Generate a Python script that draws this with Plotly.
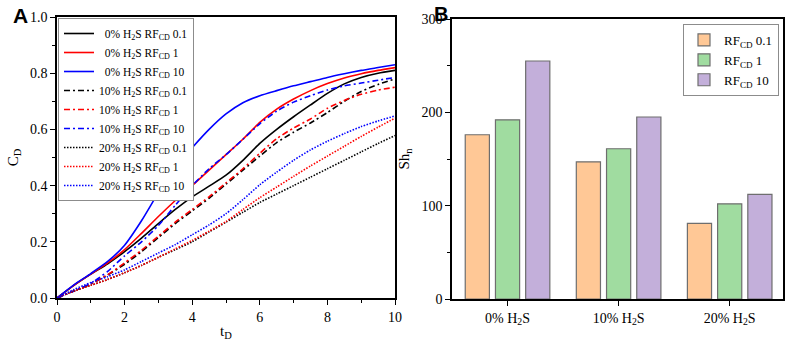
import plotly.graph_objects as go

W, H = 789, 341

# ---------------- Panel A data ----------------
t_D = [0, 0.5, 1, 1.5, 2, 2.5, 3, 3.5, 4, 4.5, 5, 5.5, 6, 6.5, 7, 7.5, 8, 8.5, 9, 9.5, 10]

c_0_01 = [0, 0.045, 0.085, 0.122, 0.165, 0.213, 0.265, 0.315, 0.36, 0.398, 0.437, 0.49, 0.55, 0.60, 0.645, 0.687, 0.728, 0.762, 0.785, 0.80, 0.81]
c_0_1 = [0, 0.045, 0.085, 0.125, 0.172, 0.23, 0.29, 0.347, 0.40, 0.455, 0.51, 0.565, 0.625, 0.672, 0.708, 0.738, 0.763, 0.783, 0.798, 0.81, 0.82]
c_0_10 = [0, 0.047, 0.087, 0.13, 0.188, 0.275, 0.375, 0.465, 0.535, 0.60, 0.655, 0.695, 0.72, 0.738, 0.755, 0.77, 0.785, 0.798, 0.81, 0.82, 0.83]
c_10_01 = [0, 0.025, 0.05, 0.082, 0.12, 0.165, 0.215, 0.265, 0.31, 0.355, 0.405, 0.455, 0.505, 0.553, 0.59, 0.623, 0.66, 0.70, 0.735, 0.76, 0.78]
c_10_1 = [0, 0.025, 0.05, 0.083, 0.125, 0.17, 0.22, 0.27, 0.315, 0.36, 0.41, 0.46, 0.515, 0.567, 0.605, 0.637, 0.675, 0.703, 0.725, 0.74, 0.75]
c_10_10 = [0, 0.025, 0.052, 0.095, 0.15, 0.20, 0.258, 0.33, 0.40, 0.46, 0.51, 0.565, 0.62, 0.665, 0.697, 0.72, 0.74, 0.755, 0.765, 0.775, 0.785]
c_20_01 = [0, 0.025, 0.045, 0.066, 0.09, 0.116, 0.145, 0.172, 0.20, 0.235, 0.27, 0.305, 0.34, 0.37, 0.40, 0.43, 0.46, 0.49, 0.52, 0.55, 0.578]
c_20_1 = [0, 0.025, 0.045, 0.066, 0.09, 0.116, 0.145, 0.175, 0.205, 0.238, 0.272, 0.315, 0.357, 0.395, 0.433, 0.47, 0.505, 0.54, 0.575, 0.608, 0.64]
c_20_10 = [0, 0.03, 0.055, 0.076, 0.10, 0.13, 0.16, 0.19, 0.225, 0.26, 0.30, 0.35, 0.403, 0.448, 0.49, 0.527, 0.558, 0.585, 0.61, 0.63, 0.648]

series_names = [
    "\u00a0\u00a00% H<sub>2</sub>S RF<sub>CD</sub> 0.1",
    "\u00a0\u00a00% H<sub>2</sub>S RF<sub>CD</sub> 1",
    "\u00a0\u00a00% H<sub>2</sub>S RF<sub>CD</sub> 10",
    "10% H<sub>2</sub>S RF<sub>CD</sub> 0.1",
    "10% H<sub>2</sub>S RF<sub>CD</sub> 1",
    "10% H<sub>2</sub>S RF<sub>CD</sub> 10",
    "20% H<sub>2</sub>S RF<sub>CD</sub> 0.1",
    "20% H<sub>2</sub>S RF<sub>CD</sub> 1",
    "20% H<sub>2</sub>S RF<sub>CD</sub> 10",
]
series_values = [c_0_01, c_0_1, c_0_10, c_10_01, c_10_1, c_10_10, c_20_01, c_20_1, c_20_10]
series_colors = ["#000000", "#FF0000", "#0000FF"] * 3
series_dash = ["solid"] * 3 + ["6px,3px,2px,3px"] * 3 + ["1.5px,1.5px"] * 3

# ---------------- Panel B data ----------------
groups = ["0% H<sub>2</sub>S", "10% H<sub>2</sub>S", "20% H<sub>2</sub>S"]
sh_rf01 = [176, 147, 81]
sh_rf1 = [192, 161, 102]
sh_rf10 = [255, 195, 112]
bar_names = ["RF<sub>CD</sub> 0.1", "RF<sub>CD</sub> 1", "RF<sub>CD</sub> 10"]
bar_colors = ["#FFC896", "#A0DCA0", "#C3AFDA"]

fig = go.Figure()

for name, vals, col, dash in zip(series_names, series_values, series_colors, series_dash):
    fig.add_trace(go.Scatter(
        x=t_D, y=vals, mode="lines", name=name,
        line=dict(color=col, width=1.6, dash=dash, shape="spline", smoothing=0.6),
        xaxis="x", yaxis="y", legend="legend",
    ))

for name, vals, col in zip(bar_names, [sh_rf01, sh_rf1, sh_rf10], bar_colors):
    fig.add_trace(go.Bar(
        x=groups, y=vals, name=name,
        marker=dict(color=col, line=dict(color="#6E6E6E", width=1.2)),
        xaxis="x2", yaxis="y2", legend="legend2",
    ))

serif = "Liberation Serif"
tickfont = dict(family=serif, size=14, color="black")

axis_common = dict(
    showline=True, linecolor="black", linewidth=1.5, mirror=True,
    ticks="outside", ticklen=5, tickwidth=1.2, tickcolor="black",
    showgrid=False, zeroline=False, tickfont=tickfont, automargin=False,
)

fig.update_layout(
    width=W, height=H,
    margin=dict(l=0, r=0, t=0, b=0),
    paper_bgcolor="white", plot_bgcolor="white",
    font=dict(family=serif, color="black"),
    barmode="group", bargap=0.184, bargroupgap=0.2,
    xaxis=dict(
        domain=[57 / W, 395 / W], anchor="y", range=[0, 10],
        tickmode="linear", tick0=0, dtick=2,
        minor=dict(ticks="outside", ticklen=3, tickcolor="black", dtick=1, tick0=0),
        title=dict(text="t<sub>D</sub>", font=dict(family=serif, size=15), standoff=4),
        **axis_common,
    ),
    yaxis=dict(
        domain=[(H - 298) / H, (H - 17) / H], anchor="x", range=[0, 1],
        tickmode="linear", tick0=0, dtick=0.2, tickformat=".1f",
        minor=dict(ticks="outside", ticklen=3, tickcolor="black", dtick=0.1, tick0=0),
        title=dict(text="C<sub>D</sub>", font=dict(family=serif, size=15), standoff=8),
        **axis_common,
    ),
    xaxis2=dict(
        domain=[452 / W, 783 / W], anchor="y2", range=[-0.5, 2.48],
        **axis_common,
    ),
    yaxis2=dict(
        domain=[(H - 299) / H, (H - 19) / H], anchor="x2", range=[0, 300],
        tickmode="linear", tick0=0, dtick=100,
        minor=dict(ticks="outside", ticklen=3, tickcolor="black", dtick=50, tick0=0),
        title=dict(text="Sh<sub>n</sub>", font=dict(family=serif, size=15), standoff=8),
        **axis_common,
    ),
    legend=dict(
        x=58 / W, y=(H - 18) / H, xanchor="left", yanchor="top",
        bgcolor="white", bordercolor="#8C8C8C", borderwidth=1,
        font=dict(family=serif, size=11.5, color="black"),
        tracegroupgap=0, itemwidth=30,
    ),
    legend2=dict(
        x=779 / W, y=(H - 24) / H, xanchor="right", yanchor="top",
        bgcolor="white", bordercolor="#8C8C8C", borderwidth=1,
        font=dict(family=serif, size=13, color="black"),
        tracegroupgap=0, itemwidth=30,
    ),
    showlegend=True,
    annotations=[
        dict(text="<b>A</b>", x=11 / W, y=(H - 2) / H, xref="paper", yref="paper",
             xanchor="left", yanchor="top", showarrow=False,
             font=dict(family="Liberation Sans", size=21, color="black")),
        dict(text="<b>B</b>", x=432 / W, y=(H - 1) / H, xref="paper", yref="paper",
             xanchor="left", yanchor="top", showarrow=False,
             font=dict(family="Liberation Sans", size=20, color="black")),
    ],
)

fig.write_html(
    "out.html",
    config={"displayModeBar": False},
    post_script="document.body.style.margin='0px';document.body.style.padding='0px';",
)
